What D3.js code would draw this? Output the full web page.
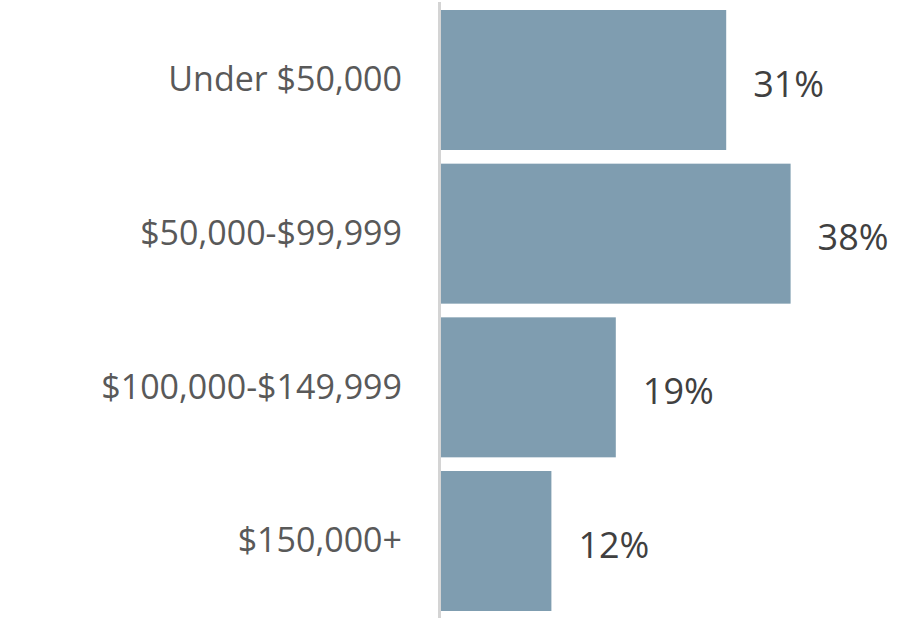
<!DOCTYPE html>
<html><head><meta charset="utf-8">
<script src="https://cdn.jsdelivr.net/npm/d3@7"></script>
<style>body{margin:0;background:#fff}svg{display:block}</style>
</head><body>
<script>
const categories = ["Under $50,000", "$50,000-$99,999", "$100,000-$149,999", "$150,000+"];
const values = [31, 38, 19, 12];
const valueLabels = ["31%", "38%", "19%", "12%"];

const W = 901, H = 623;
const svg = d3.select("body").append("svg").attr("width", W).attr("height", H);

const x = d3.scaleLinear().domain([0, 100]).range([441, 1361]);
const y = d3.scaleBand().domain(categories).range([10, 611]).paddingInner(0.089);

svg.append("line").attr("x1", 439.5).attr("x2", 439.5).attr("y1", 2).attr("y2", 618)
  .attr("stroke", "#d4d4d4").attr("stroke-width", 3);

svg.selectAll("rect.bar").data(categories).join("rect").attr("class", "bar")
  .attr("x", x(0)).attr("y", d => y(d))
  .attr("width", (d, i) => x(values[i]) - x(0))
  .attr("height", y.bandwidth())
  .attr("fill", "#7f9db0");

svg.selectAll("text.cat").data(categories).join("text").attr("class", "cat")
  .attr("x", 402).attr("y", d => y(d) + y.bandwidth() / 2)
  .attr("dy", "0.33em").attr("text-anchor", "end")
  .attr("font-family", "'Open Sans', sans-serif").attr("font-size", 34)
  .attr("fill", "#595959").text(d => d);

svg.selectAll("text.val").data(categories).join("text").attr("class", "val")
  .attr("x", (d, i) => x(values[i]) + 27).attr("y", d => y(d) + y.bandwidth() / 2)
  .attr("dy", "0.46em")
  .attr("font-family", "'Open Sans', sans-serif").attr("font-size", 36)
  .attr("fill", "#404040").text((d, i) => valueLabels[i]);
</script>
</body></html>
